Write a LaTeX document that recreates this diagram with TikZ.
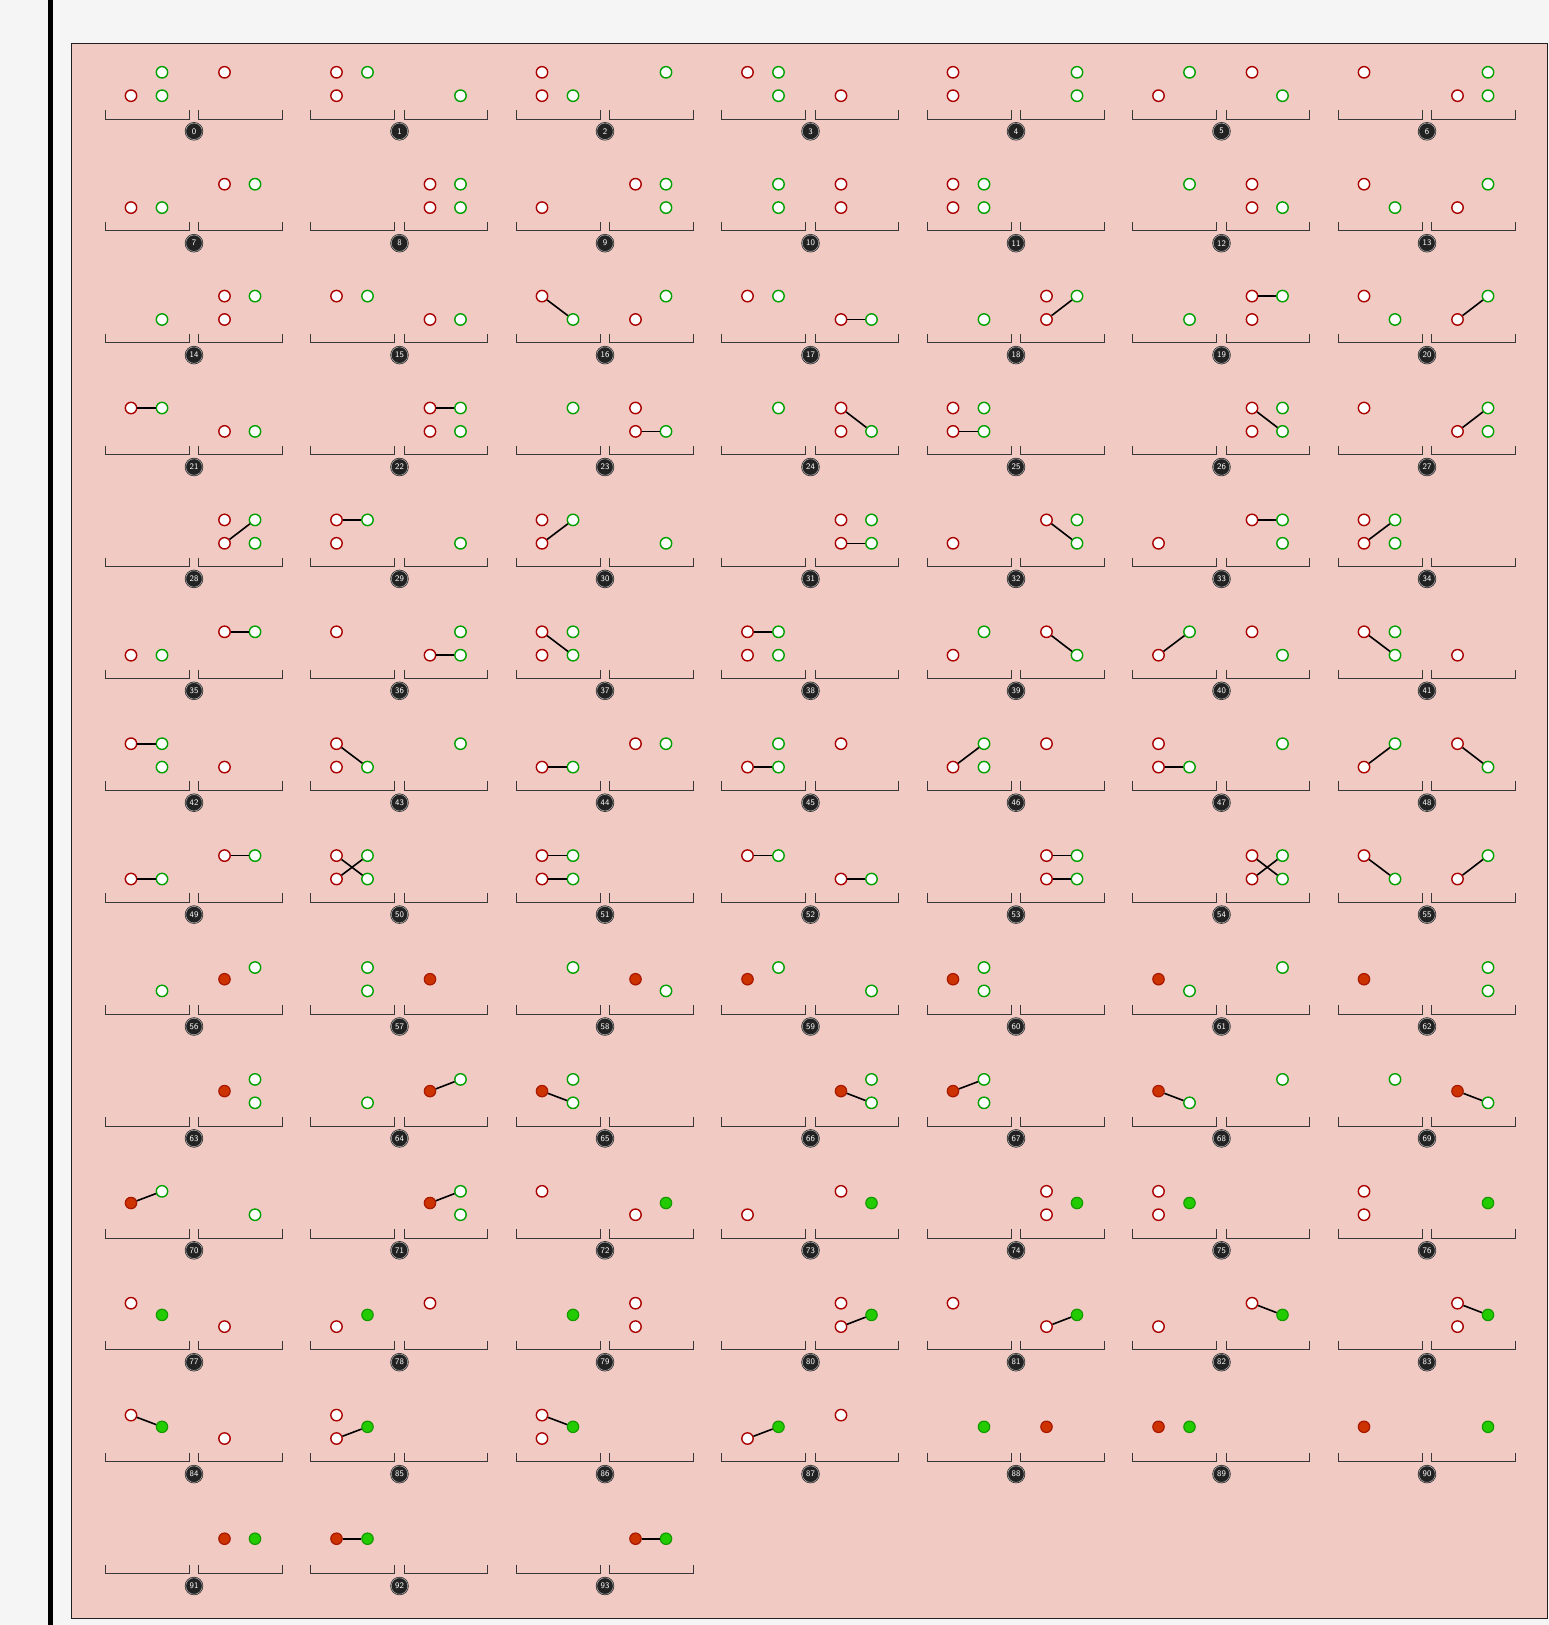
\documentclass[tikz,border=0pt]{standalone}
\usepackage{tikz}
\usetikzlibrary{calc}
\definecolor{canvas}{HTML}{F5F5F5}
\definecolor{panel}{HTML}{F0CAC3}
\definecolor{redline}{HTML}{AA0000}
\definecolor{greenline}{HTML}{00A000}
\definecolor{redfill}{HTML}{CC3300}
\definecolor{redring}{HTML}{A81800}
\definecolor{greenfill}{HTML}{22CC00}
\definecolor{greenring}{HTML}{169A00}
\definecolor{tickgray}{HTML}{383838}
\definecolor{badgegray}{HTML}{222222}

% column / row offsets inside one stage
\newcommand{\pxrL}{26}
\newcommand{\pxgL}{57}
\newcommand{\pxrR}{119.5}
\newcommand{\pxgR}{150}
\newcommand{\pyt}{0}
\newcommand{\pyb}{23.4}
\newcommand{\pym}{11.7}

% #1 index, #2 column, #3 row, #4 dots (colour/row/side), #5 links
\newcommand{\stage}[5]{%
  \begin{scope}[shift={({105+205.5*#2},{72.3+111.9*#3})}]
    \draw[bracket] (0,37.7) -- (0,46.7) -- (84.3,46.7) -- (84.3,37.7);
    \draw[bracket] (93.7,37.7) -- (93.7,46.7) -- (177.3,46.7) -- (177.3,37.7);
    \node[badge] (n#1) at (89,59) {#1};
    \foreach \dcol/\drow/\dside in {#4}
      \node[dot \dcol\drow] (c#1\dcol\drow)
        at (\csname px\dcol\dside\endcsname, \csname py\drow\endcsname) {};
    \foreach \ea/\eb in {#5}
      \draw[link] (c#1\ea) -- (c#1\eb);
  \end{scope}}

\begin{document}
\begin{tikzpicture}[x=1pt, y=-1pt,
    bracket/.style={tickgray, line width=1pt},
    link/.style={black, line width=1.6pt},
    dot base/.style={circle, inner sep=0pt, minimum size=11.4pt, line width=1.4pt},
    dot rt/.style={dot base, draw=redline, fill=white},
    dot rb/.style={dot base, draw=redline, fill=white},
    dot gt/.style={dot base, draw=greenline, fill=white},
    dot gb/.style={dot base, draw=greenline, fill=white},
    dot rm/.style={dot base, draw=redring, fill=redfill, line width=1.2pt},
    dot gm/.style={dot base, draw=greenring, fill=greenfill, line width=1.2pt},
    badge/.style={circle, inner sep=0pt, minimum size=16.5pt, fill=badgegray,
      draw=black!85, line width=0.7pt, double=gray!55, double distance=0.5pt,
      text=white, font=\sffamily\fontsize{8.5}{8.5}\selectfont}]

  \fill[canvas] (0,0) rectangle (1549,1625);
  \useasboundingbox (0,0) rectangle (1549,1625);
  \draw[black, line width=4.4pt] (50.5,0) -- (50.5,1625);
  \draw[fill=panel, draw=gray!25!black, line width=1pt] (71.7,43.3) rectangle (1547.3,1618.3);

  % four open dots
  \stage{0}{0}{0}{r/t/R, r/b/L, g/t/L, g/b/L}{}
  \stage{1}{1}{0}{r/t/L, r/b/L, g/t/L, g/b/R}{}
  \stage{2}{2}{0}{r/t/L, r/b/L, g/t/R, g/b/L}{}
  \stage{3}{3}{0}{r/t/L, r/b/R, g/t/L, g/b/L}{}
  \stage{4}{4}{0}{r/t/L, r/b/L, g/t/R, g/b/R}{}
  \stage{5}{5}{0}{r/t/R, r/b/L, g/t/L, g/b/R}{}
  \stage{6}{6}{0}{r/t/L, r/b/R, g/t/R, g/b/R}{}
  \stage{7}{0}{1}{r/t/R, r/b/L, g/t/R, g/b/L}{}
  \stage{8}{1}{1}{r/t/R, r/b/R, g/t/R, g/b/R}{}
  \stage{9}{2}{1}{r/t/R, r/b/L, g/t/R, g/b/R}{}
  \stage{10}{3}{1}{r/t/R, r/b/R, g/t/L, g/b/L}{}
  \stage{11}{4}{1}{r/t/L, r/b/L, g/t/L, g/b/L}{}
  \stage{12}{5}{1}{r/t/R, r/b/R, g/t/L, g/b/R}{}
  \stage{13}{6}{1}{r/t/L, r/b/R, g/t/R, g/b/L}{}
  \stage{14}{0}{2}{r/t/R, r/b/R, g/t/R, g/b/L}{}
  \stage{15}{1}{2}{r/t/L, r/b/R, g/t/L, g/b/R}{}
  \stage{16}{2}{2}{r/t/L, r/b/R, g/t/R, g/b/L}{rt/gb}
  \stage{17}{3}{2}{r/t/L, r/b/R, g/t/L, g/b/R}{rb/gb}
  \stage{18}{4}{2}{r/t/R, r/b/R, g/t/R, g/b/L}{rb/gt}
  \stage{19}{5}{2}{r/t/R, r/b/R, g/t/R, g/b/L}{rt/gt}
  \stage{20}{6}{2}{r/t/L, r/b/R, g/t/R, g/b/L}{rb/gt}
  \stage{21}{0}{3}{r/t/L, r/b/R, g/t/L, g/b/R}{rt/gt}
  \stage{22}{1}{3}{r/t/R, r/b/R, g/t/R, g/b/R}{rt/gt}
  \stage{23}{2}{3}{r/t/R, r/b/R, g/t/L, g/b/R}{rb/gb}
  \stage{24}{3}{3}{r/t/R, r/b/R, g/t/L, g/b/R}{rt/gb}
  \stage{25}{4}{3}{r/t/L, r/b/L, g/t/L, g/b/L}{rb/gb}
  \stage{26}{5}{3}{r/t/R, r/b/R, g/t/R, g/b/R}{rt/gb}
  \stage{27}{6}{3}{r/t/L, r/b/R, g/t/R, g/b/R}{rb/gt}
  \stage{28}{0}{4}{r/t/R, r/b/R, g/t/R, g/b/R}{rb/gt}
  \stage{29}{1}{4}{r/t/L, r/b/L, g/t/L, g/b/R}{rt/gt}
  \stage{30}{2}{4}{r/t/L, r/b/L, g/t/L, g/b/R}{rb/gt}
  \stage{31}{3}{4}{r/t/R, r/b/R, g/t/R, g/b/R}{rb/gb}
  \stage{32}{4}{4}{r/t/R, r/b/L, g/t/R, g/b/R}{rt/gb}
  \stage{33}{5}{4}{r/t/R, r/b/L, g/t/R, g/b/R}{rt/gt}
  \stage{34}{6}{4}{r/t/L, r/b/L, g/t/L, g/b/L}{rb/gt}
  \stage{35}{0}{5}{r/t/R, r/b/L, g/t/R, g/b/L}{rt/gt}
  \stage{36}{1}{5}{r/t/L, r/b/R, g/t/R, g/b/R}{rb/gb}
  \stage{37}{2}{5}{r/t/L, r/b/L, g/t/L, g/b/L}{rt/gb}
  \stage{38}{3}{5}{r/t/L, r/b/L, g/t/L, g/b/L}{rt/gt}
  \stage{39}{4}{5}{r/t/R, r/b/L, g/t/L, g/b/R}{rt/gb}
  \stage{40}{5}{5}{r/t/R, r/b/L, g/t/L, g/b/R}{rb/gt}
  \stage{41}{6}{5}{r/t/L, r/b/R, g/t/L, g/b/L}{rt/gb}
  \stage{42}{0}{6}{r/t/L, r/b/R, g/t/L, g/b/L}{rt/gt}
  \stage{43}{1}{6}{r/t/L, r/b/L, g/t/R, g/b/L}{rt/gb}
  \stage{44}{2}{6}{r/t/R, r/b/L, g/t/R, g/b/L}{rb/gb}
  \stage{45}{3}{6}{r/t/R, r/b/L, g/t/L, g/b/L}{rb/gb}
  \stage{46}{4}{6}{r/t/R, r/b/L, g/t/L, g/b/L}{rb/gt}
  \stage{47}{5}{6}{r/t/L, r/b/L, g/t/R, g/b/L}{rb/gb}
  \stage{48}{6}{6}{r/t/R, r/b/L, g/t/L, g/b/R}{rb/gt, rt/gb}
  \stage{49}{0}{7}{r/t/R, r/b/L, g/t/R, g/b/L}{rt/gt, rb/gb}
  \stage{50}{1}{7}{r/t/L, r/b/L, g/t/L, g/b/L}{rt/gb, rb/gt}
  \stage{51}{2}{7}{r/t/L, r/b/L, g/t/L, g/b/L}{rt/gt, rb/gb}
  \stage{52}{3}{7}{r/t/L, r/b/R, g/t/L, g/b/R}{rt/gt, rb/gb}
  \stage{53}{4}{7}{r/t/R, r/b/R, g/t/R, g/b/R}{rt/gt, rb/gb}
  \stage{54}{5}{7}{r/t/R, r/b/R, g/t/R, g/b/R}{rt/gb, rb/gt}
  \stage{55}{6}{7}{r/t/L, r/b/R, g/t/R, g/b/L}{rt/gb, rb/gt}

  % filled red dot
  \stage{56}{0}{8}{r/m/R, g/t/R, g/b/L}{}
  \stage{57}{1}{8}{r/m/R, g/t/L, g/b/L}{}
  \stage{58}{2}{8}{r/m/R, g/t/L, g/b/R}{}
  \stage{59}{3}{8}{r/m/L, g/t/L, g/b/R}{}
  \stage{60}{4}{8}{r/m/L, g/t/L, g/b/L}{}
  \stage{61}{5}{8}{r/m/L, g/t/R, g/b/L}{}
  \stage{62}{6}{8}{r/m/L, g/t/R, g/b/R}{}
  \stage{63}{0}{9}{r/m/R, g/t/R, g/b/R}{}
  \stage{64}{1}{9}{r/m/R, g/t/R, g/b/L}{rm/gt}
  \stage{65}{2}{9}{r/m/L, g/t/L, g/b/L}{rm/gb}
  \stage{66}{3}{9}{r/m/R, g/t/R, g/b/R}{rm/gb}
  \stage{67}{4}{9}{r/m/L, g/t/L, g/b/L}{rm/gt}
  \stage{68}{5}{9}{r/m/L, g/t/R, g/b/L}{rm/gb}
  \stage{69}{6}{9}{r/m/R, g/t/L, g/b/R}{rm/gb}
  \stage{70}{0}{10}{r/m/L, g/t/L, g/b/R}{rm/gt}
  \stage{71}{1}{10}{r/m/R, g/t/R, g/b/R}{rm/gt}

  % filled green dot
  \stage{72}{2}{10}{g/m/R, r/t/L, r/b/R}{}
  \stage{73}{3}{10}{g/m/R, r/t/R, r/b/L}{}
  \stage{74}{4}{10}{g/m/R, r/t/R, r/b/R}{}
  \stage{75}{5}{10}{g/m/L, r/t/L, r/b/L}{}
  \stage{76}{6}{10}{g/m/R, r/t/L, r/b/L}{}
  \stage{77}{0}{11}{g/m/L, r/t/L, r/b/R}{}
  \stage{78}{1}{11}{g/m/L, r/t/R, r/b/L}{}
  \stage{79}{2}{11}{g/m/L, r/t/R, r/b/R}{}
  \stage{80}{3}{11}{g/m/R, r/t/R, r/b/R}{rb/gm}
  \stage{81}{4}{11}{g/m/R, r/t/L, r/b/R}{rb/gm}
  \stage{82}{5}{11}{g/m/R, r/t/R, r/b/L}{rt/gm}
  \stage{83}{6}{11}{g/m/R, r/t/R, r/b/R}{rt/gm}
  \stage{84}{0}{12}{g/m/L, r/t/L, r/b/R}{rt/gm}
  \stage{85}{1}{12}{g/m/L, r/t/L, r/b/L}{rb/gm}
  \stage{86}{2}{12}{g/m/L, r/t/L, r/b/L}{rt/gm}
  \stage{87}{3}{12}{g/m/L, r/t/R, r/b/L}{rb/gm}

  % both filled
  \stage{88}{4}{12}{g/m/L, r/m/R}{}
  \stage{89}{5}{12}{r/m/L, g/m/L}{}
  \stage{90}{6}{12}{r/m/L, g/m/R}{}
  \stage{91}{0}{13}{r/m/R, g/m/R}{}
  \stage{92}{1}{13}{r/m/L, g/m/L}{rm/gm}
  \stage{93}{2}{13}{r/m/R, g/m/R}{rm/gm}
\end{tikzpicture}
\end{document}
